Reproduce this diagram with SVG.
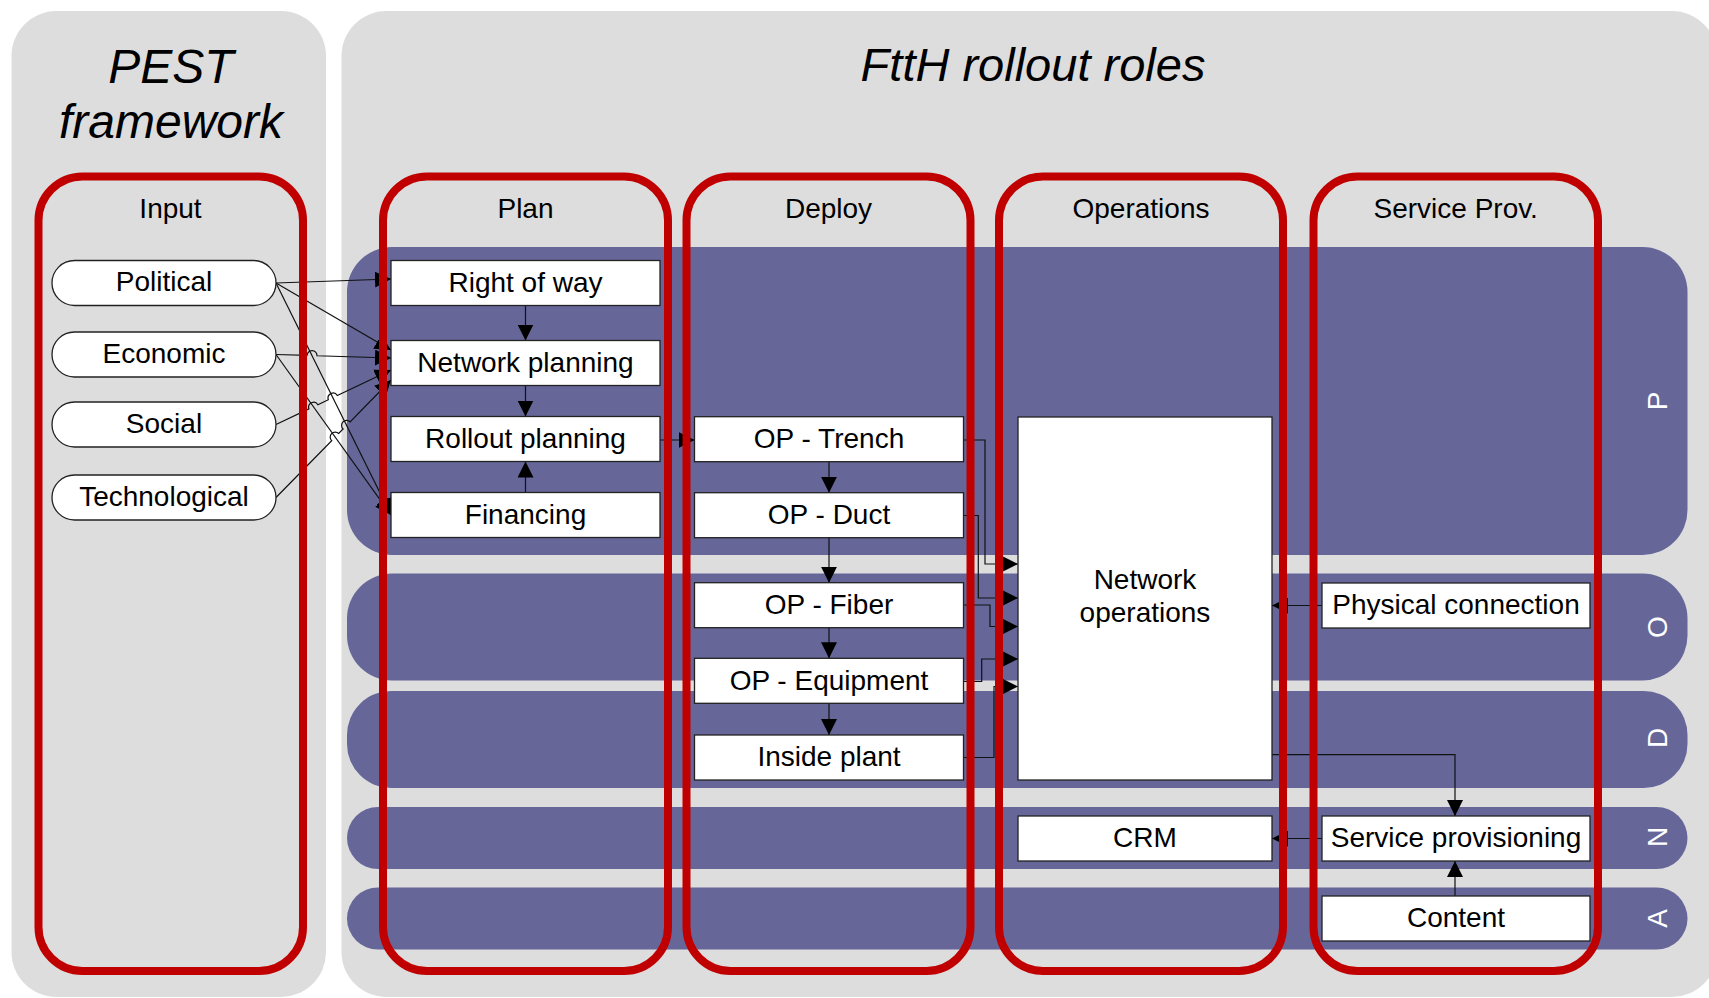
<svg xmlns="http://www.w3.org/2000/svg" width="1709" height="998" viewBox="0 0 1709 998">
<defs>
<style>
.panel{fill:#DDDDDD;}
.band{fill:#666699;}
.frame{fill:none;stroke:#C00000;stroke-width:8;}
.box{fill:#FFFFFF;stroke:#222222;stroke-width:1.3;}
.t{font-family:"Liberation Sans",Arial,sans-serif;font-size:28px;fill:#000000;text-anchor:middle;}
.title{font-family:"Liberation Sans",Arial,sans-serif;font-style:italic;fill:#000000;text-anchor:middle;}
.lt{font-family:"Liberation Sans",Arial,sans-serif;font-size:28px;fill:#FFFFFF;text-anchor:middle;}
.c{fill:none;stroke:#111111;stroke-width:1.2;marker-end:url(#ah);}
</style>
<marker id="ah" markerUnits="userSpaceOnUse" markerWidth="17" markerHeight="16" refX="16" refY="8" orient="auto">
<path d="M0,0 L16,8 L0,16 z" fill="#000000"/>
</marker>
</defs>
<rect x="0" y="0" width="1709" height="998" fill="#FFFFFF"/>

<g id="panels">
<rect class="panel" x="11.5" y="11" width="314.5" height="986" rx="45" ry="45"/>
<rect class="panel" x="341.5" y="11" width="1375.5" height="986" rx="45" ry="45"/>
<text class="title" x="171" y="83" font-size="48">PEST</text>
<text class="title" x="171" y="138" font-size="48">framework</text>
<text class="title" x="1033" y="81" font-size="47">FttH rollout roles</text>
</g>

<g id="bands">
<rect class="band" x="347" y="247" width="1340.5" height="308" rx="45" ry="45"/>
<rect class="band" x="347" y="573.5" width="1340.5" height="107" rx="45" ry="45"/>
<rect class="band" x="347" y="691" width="1340.5" height="97" rx="44" ry="44"/>
<rect class="band" x="347" y="807" width="1340.5" height="62" rx="31" ry="31"/>
<rect class="band" x="347" y="887.5" width="1340.5" height="62" rx="31" ry="31"/>
<text class="lt" transform="translate(1667,401) rotate(-90)">P</text>
<text class="lt" transform="translate(1667,627) rotate(-90)">O</text>
<text class="lt" transform="translate(1667,738) rotate(-90)">D</text>
<text class="lt" transform="translate(1667,837) rotate(-90)">N</text>
<text class="lt" transform="translate(1667,918.5) rotate(-90)">A</text>
</g>

<g id="connectors">
<path class="c" d="M276,283 L391,279"/>
<path class="c" d="M276,283 L391,350"/>
<path class="c" d="M276,283 L391,515"/>
<path class="c" d="M276,354.5 L307,355.45 A5,5 0 0 1 317,355.75 L391,358"/>
<path class="c" d="M276,354.5 L391,515"/>
<path class="c" d="M276,424.5 L308.9,408.9 A5,5 0 0 1 317.9,404.7 L328.3,399.7 A5,5 0 0 1 337.3,395.5 L391,370"/>
<path class="c" d="M276,497.5 L331.7,440.7 A5,5 0 0 1 338.7,433.5 L343.1,429 A5,5 0 0 1 350.1,421.8 L391,380"/>
<path class="c" d="M525.5,305.5 V340.5"/>
<path class="c" d="M525.5,385.5 V416.5"/>
<path class="c" d="M525.5,492.5 V461.5"/>
<path class="c" d="M660,440 H694.5"/>
<path class="c" d="M829,461.7 V492.7"/>
<path class="c" d="M829,537.7 V582.7"/>
<path class="c" d="M829,627.7 V658.3"/>
<path class="c" d="M829,703.3 V735"/>
<path class="c" d="M963.5,440 H985 V564 H1018"/>
<path class="c" d="M963.5,515.5 H978.3 V598 H1018"/>
<path class="c" d="M963.5,605 H990 V626.5 H1018"/>
<path class="c" d="M963.5,681.5 H981.7 V659 H1018"/>
<path class="c" d="M963.5,757.5 H994 V686.5 H1018"/>
<path class="c" d="M1322,605.5 H1272"/>
<path class="c" d="M1322,838.5 H1272"/>
<path class="c" d="M1272,754.6 H1455 V816"/>
<path class="c" d="M1455,896 V861"/>
</g>

<g id="node-political"><rect class="box" x="52" y="260.5" width="224" height="45" rx="22.5" ry="22.5"/><text class="t" x="164" y="291">Political</text></g>
<g id="node-economic"><rect class="box" x="52" y="332" width="224" height="45" rx="22.5" ry="22.5"/><text class="t" x="164" y="362.5">Economic</text></g>
<g id="node-social"><rect class="box" x="52" y="402" width="224" height="45" rx="22.5" ry="22.5"/><text class="t" x="164" y="432.5">Social</text></g>
<g id="node-technological"><rect class="box" x="52" y="475" width="224" height="45" rx="22.5" ry="22.5"/><text class="t" x="164" y="505.5">Technological</text></g>

<g id="node-right-of-way"><rect class="box" x="391" y="260.5" width="269" height="45"/><text class="t" x="525.5" y="292">Right of way</text></g>
<g id="node-network-planning"><rect class="box" x="391" y="340.5" width="269" height="45"/><text class="t" x="525.5" y="372">Network planning</text></g>
<g id="node-rollout-planning"><rect class="box" x="391" y="416.5" width="269" height="45"/><text class="t" x="525.5" y="448">Rollout planning</text></g>
<g id="node-financing"><rect class="box" x="391" y="492.5" width="269" height="45"/><text class="t" x="525.5" y="524">Financing</text></g>

<g id="node-op-trench"><rect class="box" x="694.5" y="416.7" width="269" height="45"/><text class="t" x="829" y="448">OP - Trench</text></g>
<g id="node-op-duct"><rect class="box" x="694.5" y="492.7" width="269" height="45"/><text class="t" x="829" y="524">OP - Duct</text></g>
<g id="node-op-fiber"><rect class="box" x="694.5" y="582.7" width="269" height="45"/><text class="t" x="829" y="614">OP - Fiber</text></g>
<g id="node-op-equipment"><rect class="box" x="694.5" y="658.3" width="269" height="45"/><text class="t" x="829" y="690">OP - Equipment</text></g>
<g id="node-inside-plant"><rect class="box" x="694.5" y="735" width="269" height="45"/><text class="t" x="829" y="766">Inside plant</text></g>

<g id="node-network-operations"><rect class="box" x="1018" y="417" width="254" height="363"/><text class="t" x="1145" y="589">Network</text><text class="t" x="1145" y="622">operations</text></g>
<g id="node-crm"><rect class="box" x="1018" y="816" width="254" height="45"/><text class="t" x="1145" y="847">CRM</text></g>

<g id="node-physical-connection"><rect class="box" x="1322" y="583" width="268" height="45"/><text class="t" x="1456" y="614">Physical connection</text></g>
<g id="node-service-provisioning"><rect class="box" x="1322" y="816" width="268" height="45"/><text class="t" x="1456" y="847">Service provisioning</text></g>
<g id="node-content"><rect class="box" x="1322" y="896" width="268" height="45"/><text class="t" x="1456" y="927">Content</text></g>

<g id="frame-input"><rect class="frame" x="38.5" y="176.5" width="264.5" height="794.5" rx="44" ry="44"/><text class="t" x="170.5" y="218">Input</text></g>
<g id="frame-plan"><rect class="frame" x="383" y="176.5" width="285" height="794.5" rx="44" ry="44"/><text class="t" x="525.5" y="218">Plan</text></g>
<g id="frame-deploy"><rect class="frame" x="686.5" y="176.5" width="284" height="794.5" rx="44" ry="44"/><text class="t" x="828.5" y="218">Deploy</text></g>
<g id="frame-operations"><rect class="frame" x="999" y="176.5" width="284" height="794.5" rx="44" ry="44"/><text class="t" x="1141" y="218">Operations</text></g>
<g id="frame-service-prov"><rect class="frame" x="1313.5" y="176.5" width="284.5" height="794.5" rx="44" ry="44"/><text class="t" x="1455.7" y="218">Service Prov.</text></g>
</svg>
